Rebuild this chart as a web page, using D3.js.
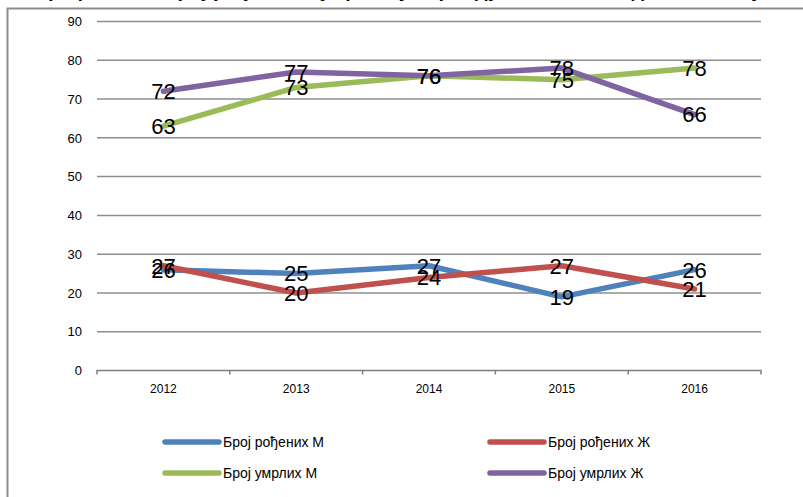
<!DOCTYPE html>
<html lang="sr">
<head>
<meta charset="UTF-8">
<script src="https://d3js.org/d3.v7.min.js"></script>
<style>
  body { margin: 0; background: #fff; }
  svg { display: block; font-family: "Liberation Sans", Arial, sans-serif; }
</style>
</head>
<body>
<div id="chart"></div>
<script>
// data
var years = ["2012", "2013", "2014", "2015", "2016"];
var seriesNames = ["Број рођених М", "Број рођених Ж", "Број умрлих М", "Број умрлих Ж"];
var bornM = [26, 25, 27, 19, 26];
var bornF = [27, 20, 24, 27, 21];
var diedM = [63, 73, 76, 75, 78];
var diedF = [72, 77, 76, 78, 66];
var yTicks = [0, 10, 20, 30, 40, 50, 60, 70, 80, 90];

var colors = ["#4f81bd", "#c0504d", "#9bbb59", "#8064a2"];
var series = [bornM, bornF, diedM, diedF];

var width = 803, height = 497;
var plotLeft = 97, plotRight = 761, plotTop = 21.5, plotBottom = 370.5;

var svg = d3.select("#chart").append("svg")
    .attr("width", width)
    .attr("height", height);

// title, mostly cut off by the top edge
svg.append("text")
    .attr("x", 400)
    .attr("y", -3)
    .attr("text-anchor", "middle")
    .attr("font-size", 20)
    .attr("font-weight", "bold")
    .text("Графикон 1. Број рођених и умрлих у периоду 2012-2016. године по полу");

// outer frame
svg.append("rect")
    .attr("x", 7.5).attr("y", 8.5)
    .attr("width", 820).attr("height", 520)
    .attr("fill", "none")
    .attr("stroke", "#8c8c8c")
    .attr("stroke-width", 2);

var x = d3.scaleBand().domain(years).range([plotLeft, plotRight]);
var y = d3.scaleLinear().domain([0, 90]).range([plotBottom, plotTop]);

// gridlines
svg.append("g")
    .selectAll("line")
    .data(yTicks.slice(1))
    .join("line")
    .attr("x1", plotLeft).attr("x2", plotRight)
    .attr("y1", function(d){ return y(d) })
    .attr("y2", function(d){ return y(d) })
    .attr("stroke", "#8e8e8e")
    .attr("stroke-width", 1.5);

// y axis labels
var yAxis = svg.append("g")
    .attr("transform", "translate(" + plotLeft + ",0)")
    .call(d3.axisLeft(y).tickValues(yTicks).tickSize(0).tickPadding(15));
yAxis.select(".domain").remove();
yAxis.selectAll("text")
    .attr("font-size", 13)
    .attr("font-family", "Liberation Sans, Arial, sans-serif")
    .attr("fill", "#000");

// x axis
var xAxis = svg.append("g")
    .attr("transform", "translate(0," + plotBottom + ")")
    .call(d3.axisBottom(x).tickSize(0).tickPadding(14));
xAxis.select(".domain")
    .attr("d", "M" + plotLeft + ",4V0H" + plotRight + "V4")
    .attr("stroke", "#7f7f7f")
    .attr("stroke-width", 1.5)
    .attr("fill", "none");
xAxis.selectAll("text")
    .attr("font-size", 12)
    .attr("font-family", "Liberation Sans, Arial, sans-serif")
    .attr("fill", "#000");
// tick marks at category borders
svg.append("g")
    .selectAll("line")
    .data(years.slice(1))
    .join("line")
    .attr("x1", function(d){ return x(d) })
    .attr("x2", function(d){ return x(d) })
    .attr("y1", plotBottom).attr("y2", plotBottom + 4)
    .attr("stroke", "#7f7f7f")
    .attr("stroke-width", 1.5);

var cx = function(d, i){ return x(years[i]) + x.bandwidth() / 2 };

var line = d3.line()
    .x(cx)
    .y(function(d){ return y(d) });

// lines
series.forEach(function(vals, s){
    svg.append("path")
        .datum(vals)
        .attr("d", line)
        .attr("fill", "none")
        .attr("stroke", colors[s])
        .attr("stroke-width", 5.5)
        .attr("stroke-linejoin", "round")
        .attr("stroke-linecap", "round");
});

// value labels
series.forEach(function(vals, s){
    svg.append("g")
        .selectAll("text")
        .data(vals)
        .join("text")
        .attr("x", cx)
        .attr("y", function(d){ return y(d) })
        .attr("dy", "0.36em")
        .attr("text-anchor", "middle")
        .attr("font-size", 22)
        .attr("fill", "#000")
        .text(function(d){ return d });
});

// legend
var legendPos = [[165, 442], [490, 442], [165, 473], [490, 473]];
var legend = svg.append("g")
    .selectAll("g")
    .data(seriesNames)
    .join("g")
    .attr("transform", function(d, i){ return "translate(" + legendPos[i][0] + "," + legendPos[i][1] + ")" });
legend.append("line")
    .attr("x1", 0).attr("x2", 54)
    .attr("stroke", function(d, i){ return colors[i] })
    .attr("stroke-width", 5.5)
    .attr("stroke-linecap", "round");
legend.append("text")
    .attr("x", 58)
    .attr("dy", "0.36em")
    .attr("font-size", 14)
    .attr("fill", "#000")
    .text(function(d){ return d });
</script>
</body>
</html>
